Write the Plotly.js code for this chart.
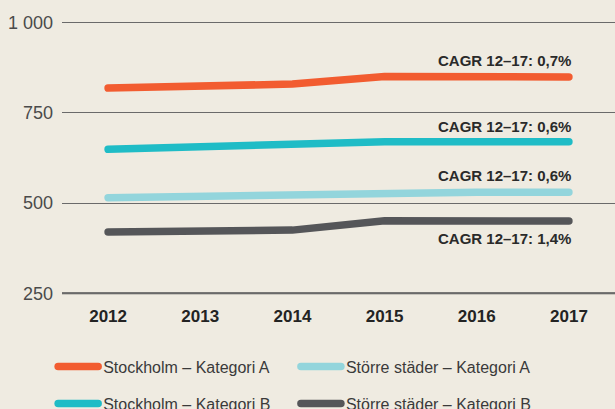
<!DOCTYPE html>
<html>
<head>
<meta charset="utf-8">
<script src="https://cdn.plot.ly/plotly-3.0.1.min.js"></script>
<style>
html,body{margin:0;padding:0;background:#efebe1;}
#chart{width:615px;height:409px;}
.js-line{stroke-linecap:round;}
</style>
</head>
<body>
<div id="chart"></div>
<script>
const years = [2012, 2013, 2014, 2015, 2016, 2017];
const stockholmA = [819, 823, 830, 851, 850, 850];
const stockholmB = [649, 655, 660, 670, 670, 670];
const storreA = [515, 519, 524, 530, 530, 530];
const storreB = [420, 422, 425, 451, 450, 450];
const seriesNames = ['Stockholm – Kategori A', 'Stockholm – Kategori B', 'Större städer – Kategori A', 'Större städer – Kategori B'];
const cagrLabels = ['CAGR 12–17: 0,7%', 'CAGR 12–17: 0,6%', 'CAGR 12–17: 0,6%', 'CAGR 12–17: 1,4%'];
const yTickVals = [250, 500, 750, 1000];
const yTickText = ['250', '500', '750', '1 000'];

const seriesData = [stockholmA, stockholmB, storreA, storreB];
const colors = ['#f25c30', '#1fbcc6', '#93d5dc', '#555659'];
const legendIds = ['legend', 'legend3', 'legend2', 'legend4'];
const labelShift = [16, 15, 17, -17];

const traces = seriesData.map((vals, i) => ({
  x: years, y: vals, name: seriesNames[i], type: 'scatter', mode: 'lines',
  line: {color: colors[i], width: 7.5},
  legend: legendIds[i], hoverinfo: 'skip'
}));

const annotations = seriesData.map((vals, i) => ({
  x: years[years.length - 1], y: vals[vals.length - 1], xref: 'x', yref: 'y',
  text: '<b>' + cagrLabels[i] + '</b>', showarrow: false,
  xanchor: 'right', yanchor: 'middle', xshift: 4, yshift: labelShift[i],
  font: {family: 'Liberation Sans, Arial, sans-serif', size: 15, color: '#2a2a2a'}
}));

const legendFont = {family: 'Liberation Sans, Arial, sans-serif', size: 16, color: '#3a3a3a'};
function leg(x, y) {
  return {x: x, y: y, xanchor: 'left', yanchor: 'middle', orientation: 'h',
    bgcolor: 'rgba(0,0,0,0)', font: legendFont, itemwidth: 40};
}

const layout = {
  width: 615, height: 409,
  paper_bgcolor: '#efebe1', plot_bgcolor: '#efebe1',
  margin: {l: 62, r: 0, t: 21, b: 114, autoexpand: false},
  showlegend: true,
  xaxis: {
    range: [2011.5, 2017.5], tickvals: years, ticktext: years.map(String),
    showgrid: false, zeroline: false, showline: false,
    ticks: '', ticklabelstandoff: 9,
    tickfont: {family: 'Liberation Sans, Arial, sans-serif', size: 17, color: '#232323', weight: 'bold'},
    fixedrange: true
  },
  yaxis: {
    range: [245, 1005], tickvals: yTickVals, ticktext: yTickText,
    showgrid: true, gridcolor: '#6a6a6a', gridwidth: 1, zeroline: false, showline: false,
    ticks: '', ticklabelstandoff: 8,
    tickfont: {family: 'Liberation Sans, Arial, sans-serif', size: 18, color: '#4a4a4a'},
    fixedrange: true
  },
  shapes: [{type: 'line', xref: 'paper', x0: 0, x1: 1, yref: 'y', y0: yTickVals[0], y1: yTickVals[0],
    line: {color: '#505050', width: 2}, layer: 'below'}],
  legend: leg(-0.016, -0.261),
  legend2: leg(0.423, -0.261),
  legend3: leg(-0.016, -0.396),
  legend4: leg(0.423, -0.396),
  annotations: annotations
};

Plotly.newPlot('chart', traces, layout, {displayModeBar: false, staticPlot: true});
</script>
</body>
</html>
